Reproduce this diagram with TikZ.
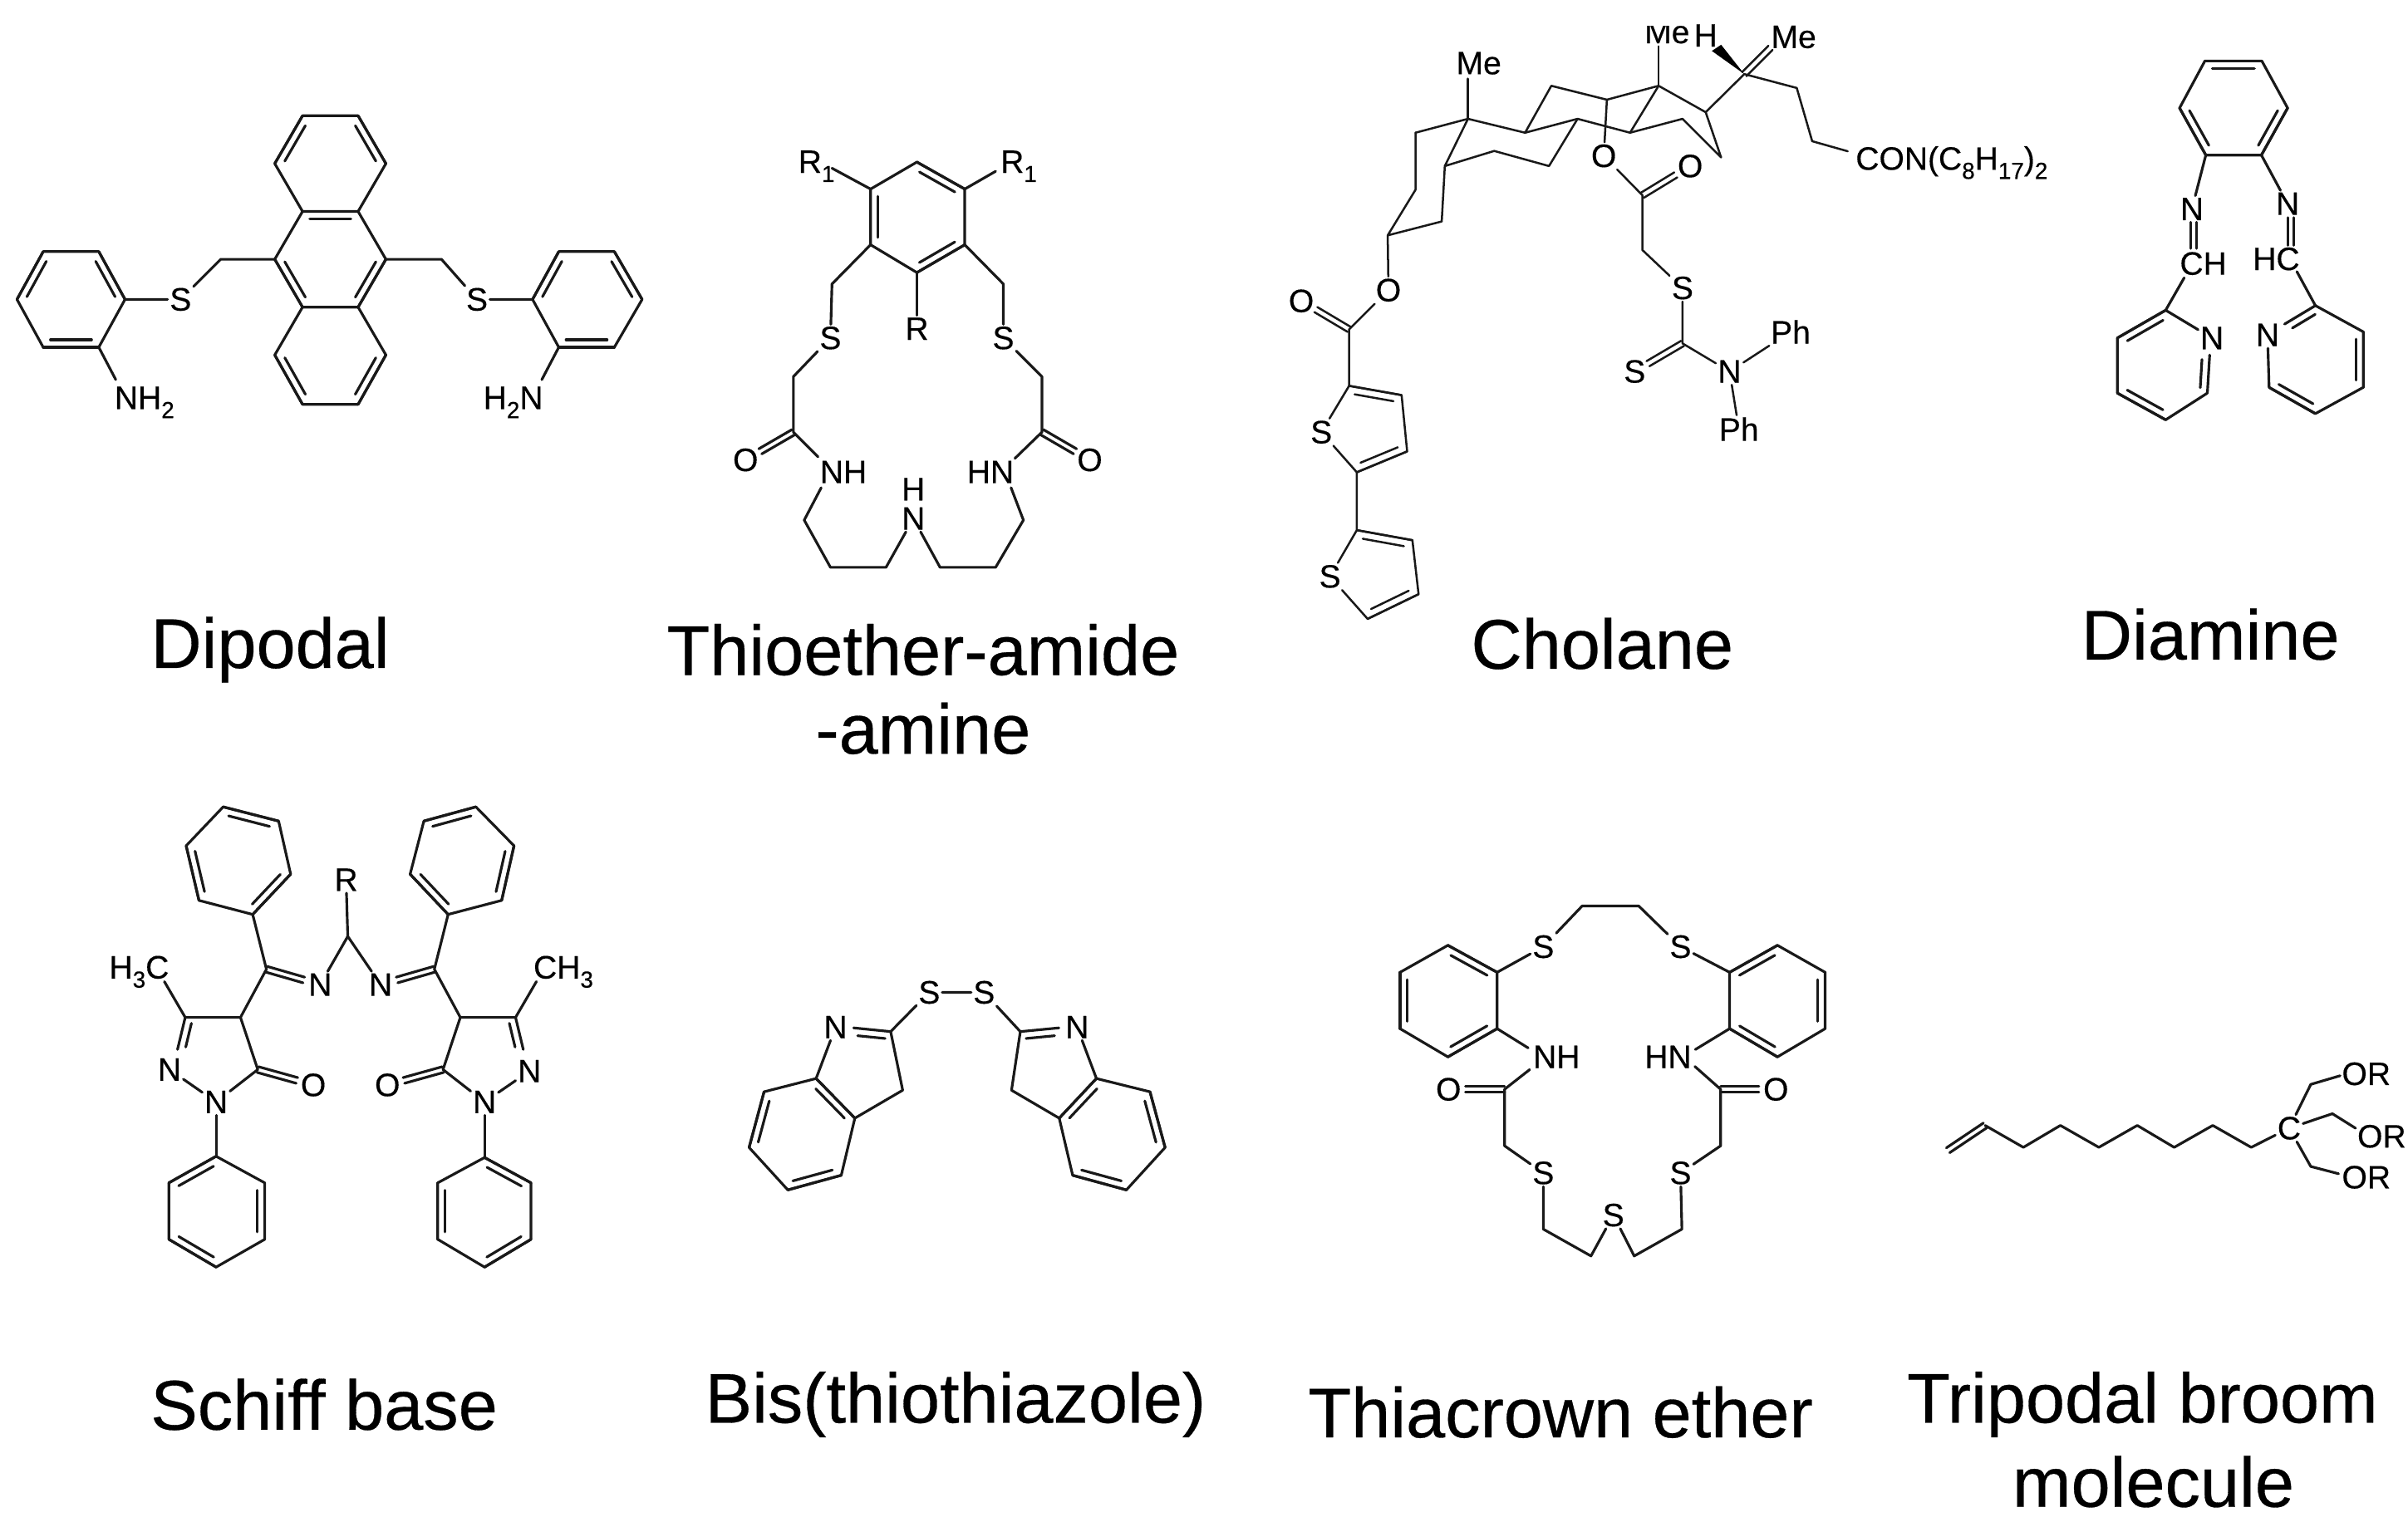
\documentclass[tikz,border=0pt]{standalone}
\usepackage{fontspec}
\setmainfont{Liberation Sans}
\newfontfamily\boldishfont[FakeBold=0.35]{Liberation Sans}
\usetikzlibrary{calc}
\newcommand{\dgap}{4.8pt}
\newcommand{\sbs}[1]{\raisebox{-.28em}{\fontsize{15}{15}\selectfont #1}}
\newcommand{\B}[2]{\draw[bond] (#1)--(#2);}
% ring/inner double bond: a, b, point on the inner side
\newcommand{\D}[3]{\draw[bond] (#1)--(#2);
  \coordinate (tf) at ($(#1)!(#3)!(#2)$);
  \coordinate (tg) at ($(tf)!\dgap!(#3)$);
  \draw[bond] ($(#1)!.13!(#2)+(tg)-(tf)$) -- ($(#2)!.13!(#1)+(tg)-(tf)$);}
% symmetric double bond between a and b
\newcommand{\Dc}[2]{\draw[bond] ($(#1)!1.9pt!90:(#2)$) -- ($(#2)!1.9pt!-90:(#1)$);
  \draw[bond] ($(#1)!1.9pt!-90:(#2)$) -- ($(#2)!1.9pt!90:(#1)$);}
% symmetric double bond from a point to a labelled atom, stopping short of the label
\newcommand{\Dn}[3][11pt]{\coordinate (te) at ($(#3)!#1!(#2)$); \Dc{#2}{te}}
\tikzset{
  bond/.style={line width=1.7pt,line join=round,line cap=round,black!90},
  atom/.style={font=\boldishfont\fontsize{21}{21}\selectfont,inner sep=1.2pt,text=black},
  title/.style={font=\boldishfont\fontsize{45.6}{46}\selectfont,inner sep=0pt,text=black},
  bw/.style={anchor=base west,inner sep=0pt},
  be/.style={anchor=base east,inner sep=0pt},
}
\newcommand{\pts}[1]{\foreach \n/\x/\y in {#1} {\coordinate (\n) at (\x,\y);}}
\begin{document}
\begin{tikzpicture}[x=1pt,y=-1pt]
\useasboundingbox (0,0) rectangle (1560,989.4);
\fill[white] (0,0) rectangle (1560,989.4);

%% ---------- Dipodal ----------
\pts{a1/196/75,a2/232/75,a3/250/106,a4/232/137,a5/196/137,a6/178/106,
 a7/250/168,a8/232/199,a9/196/199,a10/178/168,a11/250/230,a12/232/262,a13/196/262,a14/178/230,
 ac1/214/106,ac2/214/168,ac3/214/230,
 am1/143/168,am2/286/168,
 l1/28/163,l2/64/163,l3/81/194,l4/64/225,l5/28/225,l6/11/194,lc/46/194,
 r1/362/163,r2/398/163,r3/416/194,r4/398/225,r5/362/225,r6/345/194,rc/380/194,
 ae1/75/246,ae2/351/246}
\draw[bond] (a6)--(a1)--(a2)--(a3)--(a4)--(a5)--cycle;
\draw[bond] (a5)--(a10)--(a9)--(a8)--(a7)--(a4);
\draw[bond] (a9)--(a14)--(a13)--(a12)--(a11)--(a8);
\D{a1}{a6}{ac1}\D{a2}{a3}{ac1}\D{a5}{a4}{ac2}\D{a10}{a9}{ac2}\D{a7}{a8}{ac2}\D{a14}{a13}{ac3}\D{a11}{a12}{ac3}
\draw[bond] (l1)--(l2)--(l3)--(l4)--(l5)--(l6)--cycle;
\D{l1}{l6}{lc}\D{l2}{l3}{lc}\D{l5}{l4}{lc}
\draw[bond] (r1)--(r2)--(r3)--(r4)--(r5)--(r6)--cycle;
\D{r1}{r6}{rc}\D{r2}{r3}{rc}\D{r5}{r4}{rc}
\node[atom] (as1) at (117,194) {S};
\node[atom] (as2) at (309,194) {S};
\draw[bond] (a10)--(am1)--(as1)--(l3);
\draw[bond] (a7)--(am2)--(as2)--(r6);
\node[atom,bw] (anh) at (74,265) {NH\sbs{2}};
\node[atom,be] (ahn) at (352,265) {H\sbs{2}N};
\B{l4}{ae1}\B{r5}{ae2}

%% ---------- Thioether-amide-amine ----------
\pts{t1/594/105,t2/625/122.5,t3/625/158.6,t4/594/176.6,t5/564/158.6,t6/564/122.5,tc/594.5/140.5,
 tm1/539/184,tm2/650/184,tm3/514/244,tm4/675/244,tco1/514/280,tco2/675/280,
 tb1/539/109,tb2/645/111,te1/530/296,te2/532/316,te3/657.5/297,te4/655/316,
 tp1/521/337,tp2/538/367.6,tp3/574/367.6,tp4/609/367.6,tp5/645/367.6,tp6/663/337}
\draw[bond] (t1)--(t2)--(t3)--(t4)--(t5)--(t6)--cycle;
\D{t2}{t1}{tc}\D{t3}{t4}{tc}\D{t5}{t6}{tc}
\node[atom,bw] (tr1) at (517,112) {R\sbs{1}};
\node[atom,bw] (tr2) at (648,112) {R\sbs{1}};
\node[atom] (tr) at (594,213) {R};
\node[atom] (ts1) at (538,219) {S};
\node[atom] (ts2) at (650,219) {S};
\node[atom] (to1) at (483,298) {O};
\node[atom] (to2) at (706,298) {O};
\node[atom,bw] (tnh) at (531,313) {NH};
\node[atom,be] (thn) at (657,313) {HN};
\node[atom] (tn) at (591.7,336) {N};
\node[atom] (th) at (591.7,317) {H};
\B{t6}{tb1}\B{t2}{tb2}\B{t4}{tr}
\draw[bond] (t5)--(tm1)--(ts1)--(tm3)--(tco1)--(te1);
\draw[bond] (t3)--(tm2)--(ts2)--(tm4)--(tco2)--(te3);
\Dn{tco1}{to1}
\Dn{tco2}{to2}
\draw[bond] (te2)--(tp1)--(tp2)--(tp3)--(tn)--(tp4)--(tp5)--(tp6)--(te4);

%% ---------- Cholane ----------
\pts{ca/951/77,cb/988/86,cc/1022/77,cd/1056/86,ce/1090/77,cf/1115/102,cg/1105/72.7,
 ch/1074.5/55.6,ci/1041/64.6,cj/1005/55.6,cm/1130/48,cn/1164/57,co/1174/91.5,cp/936/107.6,
 cq/1003.5/107.6,cr/968/97.8,cs/934/143.5,ct/899/152.5,cu/917/86,cv/917/123,
 cme1/951/51,cme2/1074.5/30,cend/1197/98,cw1/1112/31,cw2/1147/31,
 cco/1064/126.5,cch/1064/162,cco2/874/213.4,
 cT1/874/250,cT2/908/256,cT3/911.6/292.5,cT4/879/306,cTc/885/275,
 cU1/879/343.5,cU2/915/350,cU3/919/385,cU4/886/401,cUc/892/370,
 ccs/1090/222.5}
\node[atom] (cme) at (958,41) {Me};
\node[atom,anchor=base] (cmet) at (1080,28) {Me};
\fill[white] (1060,0) rectangle (1097,16.5);
\node[atom] (cH) at (1105,23) {H};
\node[atom] (cmer) at (1162,24) {Me};
\node[atom,bw] (ccon) at (1202,110) {CON(C\sbs{8}H\sbs{17})\sbs{2}};
\node[atom] (co1) at (1039,101) {O};
\node[atom] (co2) at (1095,107.6) {O};
\node[atom] (co3) at (899.5,188) {O};
\node[atom] (co4) at (843,195) {O};
\node[atom] (cs1) at (856,280) {S};
\node[atom] (cs2) at (861.6,373.5) {S};
\node[atom] (cs3) at (1090,186.6) {S};
\node[atom] (cs4) at (1059,240.7) {S};
\node[atom] (cN) at (1120.5,240.7) {N};
\node[atom] (cph1) at (1160,215) {Ph};
\node[atom] (cph2) at (1126.5,278) {Ph};
\begin{scope}[bond/.append style={line width=1.35pt}]
\draw[bond] (cu)--(ca)--(cb)--(cc)--(cd)--(ce)--(cf)--(cg)--(ch)--(ci)--(cj)--(cb);
\draw[bond] (ch)--(cd);\draw[bond] (ca)--(cp)--(cr)--(cq)--(cc);
\draw[bond] (cp)--(cs)--(ct)--(cv)--(cu);
\draw[bond] (ca)--(cme1);\draw[bond] (ch)--(cme2);
\draw[bond] (cg)--(cm)--(cn)--(co)--(cend);
\draw[bond] (ci)--(co1)--(cco)--(cch)--(cs3)--(ccs)--(cN)--(cph1);
\draw[bond] (cN)--(cph2);
\Dn{cco}{co2}
\Dn[10pt]{ccs}{cs4}
\draw[bond] (ct)--(co3)--(cco2)--(cT1);
\Dn{cco2}{co4}
\draw[bond] (cT1)--(cT2)--(cT3)--(cT4)--(cs1)--(cT1);
\D{cT1}{cT2}{cTc}\D{cT3}{cT4}{cTc}
\draw[bond] (cT4)--(cU1)--(cU2)--(cU3)--(cU4)--(cs2)--(cU1);
\D{cU1}{cU2}{cUc}\D{cU3}{cU4}{cUc}
\Dc{cm}{cw2}
\end{scope}
\fill[black] (cm) -- ($(cw1)+(-3,2)$) -- ($(cw1)+(3,-2)$) -- cycle;

%% ---------- Diamine ----------
\pts{d1/1428.4/39.5,d2/1465.3/39.5,d3/1482/70,d4/1465/100.5,d5/1429/100.5,d6/1412/70,dc/1447/70,
 dl1/1421/144,dl2/1421/161,dr1/1484/141,dr2/1484/159,de1/1415/180,de2/1488/176,
 dp1/1403/201,dp2/1371.7/219,dp3/1371.7/254.7,dp4/1403/272,dp5/1430/254.7,dpc/1402/236,
 dq1/1500/198,dq2/1531/215,dq3/1531/251,dq4/1500/268,dq5/1470/251,dqc/1500/233,
 dne3/1431.5/230,dne4/1480/210}
\draw[bond] (d1)--(d2)--(d3)--(d4)--(d5)--(d6)--cycle;
\D{d1}{d2}{dc}\D{d3}{d4}{dc}\D{d6}{d5}{dc}
\node[atom] (dn1) at (1420,135.4) {N};
\node[atom] (dn2) at (1482,132) {N};
\node[atom,bw] (dch) at (1412,178) {CH};
\node[atom,be] (dhc) at (1490,175) {HC};
\node[atom] (dn3) at (1433,219) {N};
\node[atom] (dn4) at (1469,217) {N};
\B{d5}{dn1}\B{d4}{dn2}
\Dc{dl1}{dl2}
\Dc{dr1}{dr2}
\B{de1}{dp1}\B{de2}{dq1}
\draw[bond] (dn3)--(dp1)--(dp2)--(dp3)--(dp4)--(dp5);
\D{dp1}{dp2}{dpc}\D{dp3}{dp4}{dpc}\D{dp5}{dne3}{dpc}
\draw[bond] (dn4)--(dq5)--(dq4)--(dq3)--(dq2)--(dq1);
\D{dq2}{dq3}{dqc}\D{dq4}{dq5}{dqc}\D{dq1}{dne4}{dqc}

%% ---------- Schiff base ----------
\pts{s1/144.6/522.8,s2/180.5/532,s3/188.3/566.4,s4/163.7/592.5,s5/128.9/583.4,s6/120.6/548,sc1/154/558,
 s7/172.6/628,s8/155.8/659.2,s9/120/659.2,s10/167/693,sce/225.3/606.7,se1/106.5/636,
 s11/140/749.2,s12/171.5/766.4,s13/171.5/803,s14/140/821,s15/109.4/803,s16/109.4/766.4,sc2/140.5/785,
 u1/308.3/522.8,u2/274.6/532,u3/265.7/566.4,u4/290.3/592.5,u5/325/583.4,u6/333/548,uc1/299/558,
 u7/281.4/628,u8/298.2/659.2,u9/334/659.2,u10/287/693,ue1/347.5/636,
 u11/313.9/750,u12/344/766.4,u13/344/803,u14/313.9/821,u15/283.6/803,u16/283.6/766.4,uc2/313.9/785,
 sq1/115/680,sq2/339/680,spc1/140/685,spc2/314/685}
\draw[bond] (s1)--(s2)--(s3)--(s4)--(s5)--(s6)--cycle;
\D{s1}{s2}{sc1}\D{s3}{s4}{sc1}\D{s5}{s6}{sc1}
\draw[bond] (u1)--(u2)--(u3)--(u4)--(u5)--(u6)--cycle;
\D{u1}{u2}{uc1}\D{u3}{u4}{uc1}\D{u5}{u6}{uc1}
\node[atom] (sr) at (224.2,570) {R};
\node[atom] (sn1) at (207.4,638) {N};
\node[atom] (sn2) at (246.6,638) {N};
\node[atom,bw] (sh3c) at (70.6,634) {H\sbs{3}C};
\node[atom,be] (sch3) at (384.5,634) {CH\sbs{3}};
\node[atom] (sn3) at (109.8,693) {N};
\node[atom] (sn4) at (140,714) {N};
\node[atom] (so1) at (203,703) {O};
\node[atom] (sn5) at (343,694) {N};
\node[atom] (sn6) at (313.9,714) {N};
\node[atom] (so2) at (251,703) {O};
\draw[bond] (sr)--(sce);\draw[bond] (sn1)--(sce)--(sn2);
\draw[bond] (s4)--(s7)--(s8)--(s9)--(se1);
\draw[bond] (s8)--(s10)--(sn4)--(sn3);
\Dn{s7}{sn1}
\Dn{s10}{so1}
\D{s9}{sq1}{spc1}
\draw[bond] (sn4)--(s11);
\draw[bond] (s11)--(s12)--(s13)--(s14)--(s15)--(s16)--cycle;
\D{s11}{s16}{sc2}\D{s12}{s13}{sc2}\D{s14}{s15}{sc2}
\draw[bond] (u4)--(u7)--(u8)--(u9)--(ue1);
\draw[bond] (u8)--(u10)--(sn6)--(sn5);
\Dn{u7}{sn2}
\Dn{u10}{so2}
\D{u9}{sq2}{spc2}
\draw[bond] (sn6)--(u11);
\draw[bond] (u11)--(u12)--(u13)--(u14)--(u15)--(u16)--cycle;
\D{u11}{u12}{uc2}\D{u13}{u14}{uc2}\D{u15}{u16}{uc2}

%% ---------- Bis(thiothiazole) ----------
\pts{b1/577/668.4,b2/661/668.4,b3/584.8/706.4,b4/655.3/706.4,b5/528.7/698.8,b6/553.8/724.5,
 b7/710.3/698.8,b8/686.2/724.5,b9/495/707.4,b10/485.3/743.5,b11/510.4/771,b12/545/761.5,bc1/520/735,
 b13/745/707.4,b14/754.8/743.5,b15/729.7/771,b16/694.9/761.5,bc2/720/735,bpc1/555/695,bpc2/683/695,
 bne1/553/666,bne2/686/666}
\node[atom] (bs1) at (602,643) {S};
\node[atom] (bs2) at (637.5,643) {S};
\node[atom] (bn1) at (541.3,665.5) {N};
\node[atom] (bn2) at (697.8,665.5) {N};
\draw[bond] (b1)--(bs1)--(bs2)--(b2);
\draw[bond] (bn1)--(b5);\draw[bond] (bn2)--(b7);
\draw[bond] (b1)--(b3)--(b6);\draw[bond] (b2)--(b4)--(b8);
\D{b1}{bne1}{bpc1}
\D{b2}{bne2}{bpc2}
\draw[bond] (b5)--(b9)--(b10)--(b11)--(b12)--(b6)--cycle;
\D{b5}{b6}{bc1}\D{b9}{b10}{bc1}\D{b11}{b12}{bc1}
\draw[bond] (b7)--(b13)--(b14)--(b15)--(b16)--(b8)--cycle;
\D{b7}{b8}{bc2}\D{b13}{b14}{bc2}\D{b15}{b16}{bc2}

%% ---------- Thiacrown ether ----------
\pts{k1/1025/587,k2/1061.6/587,
 kl1/969.9/630,kl2/969.9/666.5,kl3/938/684.8,kl4/907/666.5,kl5/907/630,kl6/938/612.5,klc/938.5/648.5,
 kr1/1120.5/630,kr2/1120.5/666.5,kr3/1151.5/684.8,kr4/1182.4/666.5,kr5/1182.4/630,kr6/1151.5/612.5,krc/1151.5/648.5,
 kc1/974.7/705.8,kc2/1114.7/705.8,kh1/974.7/742.4,kh2/1114.7/742.4,
 kp1/999.8/796.4,kp2/1030.7/813.8,kp3/1058.7/813.8,kp4/1089.6/796.4,
 ke1/990/679,ke2/991/693,ke3/1098.3/680,ke4/1098/691}
\draw[bond] (kl1)--(kl2)--(kl3)--(kl4)--(kl5)--(kl6)--cycle;
\D{kl1}{kl6}{klc}\D{kl2}{kl3}{klc}\D{kl5}{kl4}{klc}
\draw[bond] (kr1)--(kr2)--(kr3)--(kr4)--(kr5)--(kr6)--cycle;
\D{kr1}{kr6}{krc}\D{kr2}{kr3}{krc}\D{kr5}{kr4}{krc}
\node[atom] (ks1) at (999.8,613.4) {S};
\node[atom] (ks2) at (1088.7,613.4) {S};
\node[atom,bw] (knh) at (993,692) {NH};
\node[atom,be] (khn) at (1096,692) {HN};
\node[atom] (ko1) at (938.4,705.8) {O};
\node[atom] (ko2) at (1150.5,705.8) {O};
\node[atom] (ks3) at (999.8,760) {S};
\node[atom] (ks4) at (1088.7,760) {S};
\node[atom] (ks5) at (1045.2,787.3) {S};
\draw[bond] (kl1)--(ks1)--(k1)--(k2)--(ks2)--(kr1);
\B{kl2}{ke1}\B{kr2}{ke3}\B{kc1}{ke2}\B{kc2}{ke4}
\Dn{kc1}{ko1}
\Dn{kc2}{ko2}
\draw[bond] (kc1)--(kh1)--(ks3)--(kp1)--(kp2)--(ks5)--(kp3)--(kp4)--(ks4)--(kh2)--(kc2);

%% ---------- Tripodal broom ----------
\pts{v1/1262/745.3,v2/1286/729.2,v3/1310.8/743.4,v4/1334.8/729.2,v5/1359.7/743.4,v6/1384.6/729.2,
 v7/1408.5/743.4,v8/1433.5/729.2,v9/1458.4/743.4,v10/1497/702.6,v11/1511/721.6,v12/1497/755.8,
 ve1/1516/697,ve2/1526/731,ve3/1515/760.5}
\node[atom] (vc) at (1483,731) {C};
\node[atom,bw] (vo1) at (1517,703) {OR};
\node[atom,bw] (vo2) at (1527,743.5) {OR};
\node[atom,bw] (vo3) at (1517,770) {OR};
\Dc{v1}{v2}
\draw[bond] (v2)--(v3)--(v4)--(v5)--(v6)--(v7)--(v8)--(v9)--(vc);
\draw[bond] (vc)--(v10)--(ve1);
\draw[bond] (vc)--(v11)--(ve2);
\draw[bond] (vc)--(v12)--(ve3);

%% ---------- Titles ----------
\node[title] (n1) at (175,421) {Dipodal};
\node[title] (n2) at (598,421) {Thioether-amide};
\node[title] (n3) at (598,472) {-amine};
\node[title] (n4) at (1038,417) {Cholane};
\node[title] (n5) at (1432,411) {Diamine};
\node[title] (n6) at (210,910) {Schiff base};
\node[title] (n7) at (619,910) {Bis(thiothiazole)};
\node[title] (n8) at (1011,915) {Thiacrown ether};
\node[title] (n9) at (1388,910) {Tripodal broom};
\node[title] (n10) at (1395,960) {molecule};
\end{tikzpicture}
\end{document}
